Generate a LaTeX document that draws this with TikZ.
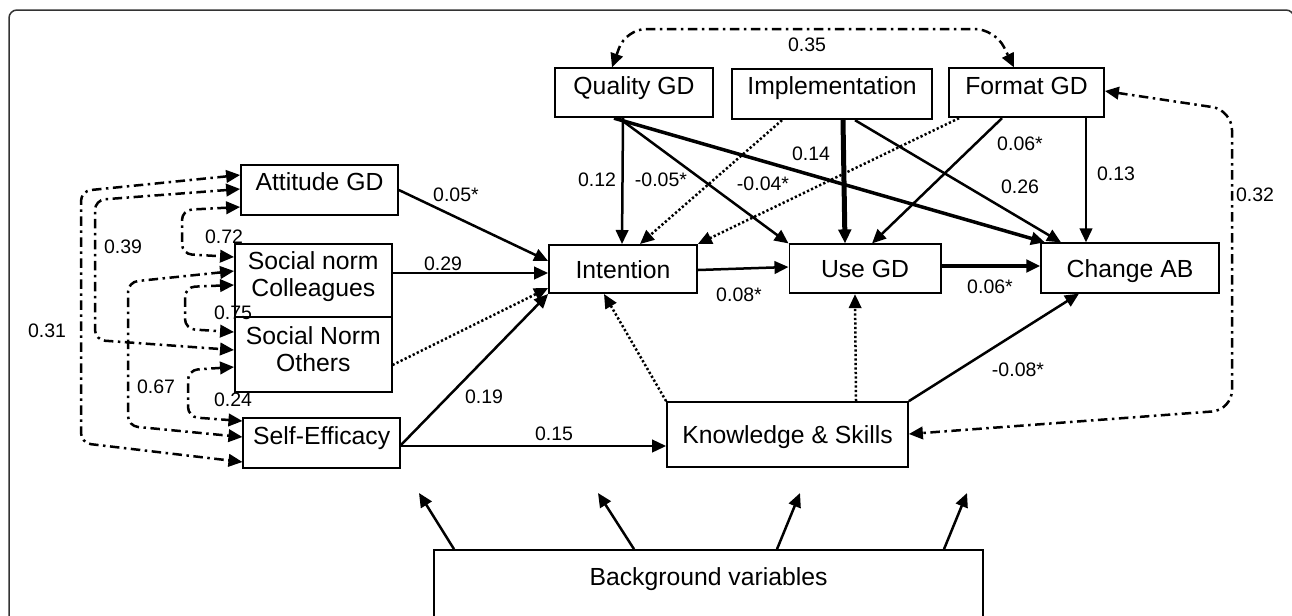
\documentclass[tikz,border=0pt]{standalone}
\usepackage{fontspec}
\setmainfont{Liberation Sans}
\usetikzlibrary{arrows.meta, positioning, calc}

\begin{document}
\begin{tikzpicture}
    [x=0.4pt, y=-0.4pt, ->, >={Triangle[length=5.6pt, width=5pt]}, line width=1pt,
    box/.style={draw, line width=0.7pt, inner sep=0pt, align=center, font=\fontsize{9.9}{11.1}\selectfont},
    lift/.style={text height=7.2pt, text depth=#1},
    coef/.style={font=\fontsize{7.8}{9}\selectfont, inner sep=0pt},
    weak/.style={dash pattern=on 0.9pt off 0.9pt},
    corr/.style={<->, dash pattern=on 3.8pt off 1.8pt on 1pt off 1.8pt, rounded corners=4pt}]
    \useasboundingbox (0,0) rectangle (1292,615);
    \clip (0,0) rectangle (1292,615);
    \draw[-, line width=0.6pt, draw=black!80, rounded corners=3.2pt] (9,10) rectangle (1294,660);

    % predictors
    \node[box, lift=7.2pt, minimum width=62.8pt, minimum height=20pt] (att) at (319.5,190) {Attitude GD};
    \node[box, text height=18.3pt, text depth=5.2pt, minimum width=62.7pt, minimum height=29pt] (snc) at (313.3,280.5) {Social norm\\Colleagues};
    \node[box, text height=18.3pt, text depth=4.4pt, minimum width=62.7pt, minimum height=30.2pt] (sno) at (313.3,354.5) {Social Norm\\Others};
    \node[box, lift=6.4pt, minimum width=62.7pt, minimum height=20pt] (se) at (321.7,443.3) {Self-Efficacy};
    \node[box, lift=6.2pt, minimum width=63.2pt, minimum height=19.6pt] (qual) at (634,92.8) {Quality GD};
    \node[box, lift=7.2pt, minimum width=80.2pt, minimum height=20pt] (impl) at (832,94.3) {Implementation};
    \node[box, lift=6.2pt, minimum width=62pt, minimum height=19.6pt] (fmt) at (1026.5,92.8) {Format GD};
    % outcomes
    \node[box, lift=0pt, minimum width=59.2pt, minimum height=19.3pt] (int) at (623,269) {Intention};
    \node[box, lift=0pt, minimum width=60.5pt, minimum height=19.6pt] (use) at (865,268.8) {Use GD};
    \node[box, lift=0pt, minimum width=71.1pt, minimum height=19.8pt] (chg) at (1130,268) {Change AB};
    \node[box, lift=0pt, minimum width=96.4pt, minimum height=26pt] (ks) at (787.5,434.5) {Knowledge \& Skills};
    \node[box, lift=11.2pt, minimum width=219.6pt, minimum height=32pt] (bg) at (708.5,590) {Background variables};
    \coordinate (tip1) at (419,493);
    \coordinate (tip2) at (598,493);
    \coordinate (tip3) at (800,493);
    \coordinate (tip4) at (967,493);

    % paths from the guideline boxes
    \draw (623,0 |- qual.south) -- (622,0 |- int.north);
    \draw (619,0 |- qual.south) -- (use.north west);
    \draw[line width=1.4pt] (614,0 |- qual.south) -- (1045,0 |- chg.north);
    \draw[weak] (782,0 |- impl.south) -- (640,0 |- int.north);
    \draw[line width=2pt] (843,0 |- impl.south) -- (845,0 |- use.north);
    \draw (855,0 |- impl.south) -- (1061,0 |- chg.north);
    \draw[weak] (959,0 |- fmt.south) -- (int.north east);
    \draw (1002,0 |- fmt.south) -- (872,0 |- use.north);
    \draw (1086,0 |- fmt.south) -- (1086,0 |- chg.north);

    % paths to intention, use and change
    \draw (att.east |- 0,190) -- (int.west |- 0,261);
    \draw (snc.east |- 0,273) -- (int.west |- 0,273);
    \draw[weak] (sno.east |- 0,365) -- (int.west |- 0,288);
    \draw (se.east |- 0,445) -- (int.south west);
    \draw (se.east |- 0,446) -- (ks.west |- 0,446);
    \draw (int.east |- 0,270) -- (use.west |- 0,267);
    \draw[line width=1.4pt] (use.east |- 0,266) -- (chg.west |- 0,266);
    \draw (ks.north east) -- (1079,0 |- chg.south);
    \draw[weak] (ks.north west) -- (604,0 |- int.south);
    \draw[weak] (856,0 |- ks.north) -- (855,0 |- use.south);

    % background variables
    \draw (454,0 |- bg.north) -- (tip1);
    \draw (634,0 |- bg.north) -- (tip2);
    \draw (777,0 |- bg.north) -- (tip3);
    \draw (944,0 |- bg.north) -- (tip4);

    % correlations
    \draw[corr] (att.west |- 0,175) -- (81,191) -- (81,443) -- (se.west |- 0,462);
    \draw[corr] (att.west |- 0,189) -- (95,200) -- (95,340) -- (sno.west |- 0,350);
    \draw[corr] (att.west |- 0,207) -- (182,210) -- (182,254) -- (snc.west |- 0,257);
    \draw[corr] (snc.west |- 0,271) -- (128,282) -- (128,426) -- (se.west |- 0,437);
    \draw[corr] (snc.west |- 0,285) -- (185,287) -- (185,329) -- (sno.west |- 0,332);
    \draw[corr] (sno.west |- 0,367) -- (188,370) -- (188,417) -- (se.west |- 0,421);
    \draw[corr, rounded corners=8pt] (612,0 |- qual.north) -- (626,29) -- (995,29) -- (1014,0 |- fmt.north);
    \draw[corr, rounded corners=8pt] (fmt.east |- 0,91) -- (1232,110) -- (1232,410) -- (ks.east |- 0,434);

    % coefficients
    \node[coef] (cAttInt) at (456,195) {0.05*};
    \node[coef] (cSncInt) at (443,264) {0.29};
    \node[coef] (cQualInt) at (597,180) {0.12};
    \node[coef] (cQualUse) at (661,180) {-0.05*};
    \node[coef] (cQualChg) at (811,154) {0.14};
    \node[coef] (cFmtInt) at (763,184) {-0.04*};
    \node[coef] (cFmtUse) at (1020,144) {0.06*};
    \node[coef] (cImplChg) at (1020,187) {0.26};
    \node[coef] (cFmtChg) at (1116,174) {0.13};
    \node[coef] (cFmtKs) at (1255,195) {0.32};
    \node[coef] (cQualFmt) at (807,45) {0.35};
    \node[coef] (cIntUse) at (739,295) {0.08*};
    \node[coef] (cUseChg) at (990,287) {0.06*};
    \node[coef] (cSeInt) at (484,397) {0.19};
    \node[coef] (cSeKs) at (554,434) {0.15};
    \node[coef] (cKsChg) at (1018,370) {-0.08*};
    \node[coef] (cAttSnc) at (224,237) {0.72};
    \node[coef] (cAttSno) at (123,247) {0.39};
    \node[coef] (cSncSno) at (233,313) {0.75};
    \node[coef] (cAttSe) at (47,331) {0.31};
    \node[coef] (cSncSe) at (156,387) {0.67};
    \node[coef] (cSnoSe) at (233,400) {0.24};
\end{tikzpicture}
\end{document}
